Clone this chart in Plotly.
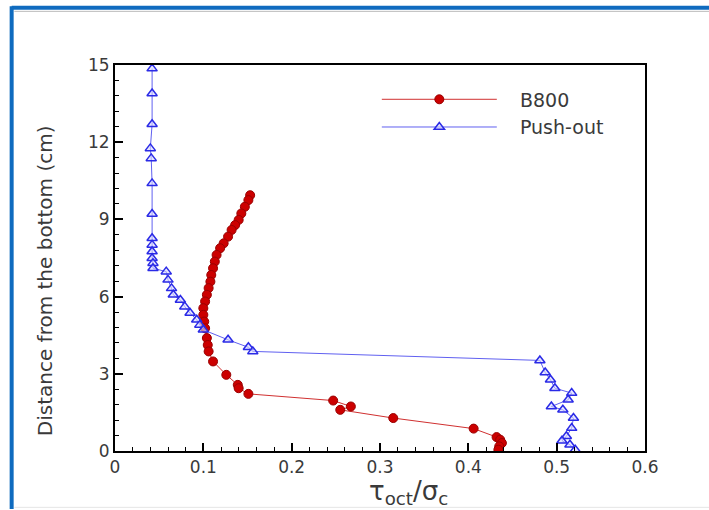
import plotly.graph_objects as go

# B800 data (x = tau_oct/sigma_c, y = distance from bottom in cm)
b800_x = [0.153, 0.151, 0.147, 0.143, 0.140, 0.136, 0.132, 0.128, 0.123, 0.119,
          0.115, 0.113, 0.111, 0.109, 0.108, 0.106, 0.104, 0.102, 0.100, 0.100,
          0.101, 0.102, 0.104, 0.105, 0.106, 0.111, 0.126, 0.139, 0.140, 0.151,
          0.247, 0.267, 0.255, 0.315, 0.406, 0.432, 0.436, 0.438, 0.435, 0.434]
b800_y = [9.94, 9.75, 9.49, 9.23, 8.98, 8.78, 8.59, 8.33, 8.07, 7.88,
          7.62, 7.36, 7.10, 6.84, 6.58, 6.33, 6.07, 5.81, 5.55, 5.29,
          5.03, 4.77, 4.39, 4.12, 3.87, 3.48, 2.96, 2.57, 2.44, 2.22,
          1.96, 1.73, 1.60, 1.28, 0.87, 0.54, 0.44, 0.31, 0.18, 0.05]

# Push-out data
push_x = [0.042, 0.042, 0.042, 0.040, 0.041, 0.042, 0.042, 0.042, 0.042, 0.042,
          0.042, 0.043, 0.043, 0.058, 0.060, 0.064, 0.066, 0.074, 0.079, 0.085,
          0.0925, 0.096, 0.100, 0.128, 0.151, 0.156, 0.481, 0.487, 0.493, 0.498,
          0.517, 0.513, 0.494, 0.507, 0.519, 0.517, 0.511, 0.506, 0.515, 0.521]
push_y = [14.86, 13.89, 12.70, 11.76, 11.37, 10.40, 9.21, 8.27, 8.01, 7.75,
          7.49, 7.30, 7.10, 6.97, 6.65, 6.32, 6.07, 5.87, 5.61, 5.36,
          5.10, 4.90, 4.71, 4.32, 4.03, 3.87, 3.52, 3.05, 2.77, 2.44,
          2.25, 1.99, 1.73, 1.60, 1.28, 0.89, 0.57, 0.40, 0.24, 0.05]

x_ticks = [0, 0.1, 0.2, 0.3, 0.4, 0.5, 0.6]
x_ticklabels = ["0", "0.1", "0.2", "0.3", "0.4", "0.5", "0.6"]
y_ticks = [0, 3, 6, 9, 12, 15]
y_ticklabels = ["0", "3", "6", "9", "12", "15"]

x_title = "τ<sub>oct</sub>/σ<sub>c</sub>"
y_title = "Distance from the bottom (cm)"

FONT = "DejaVu Sans, Verdana, sans-serif"
TXT = "#3a3a3a"
NB = "\u00a0\u00a0\u00a0"

fig = go.Figure()
fig.add_trace(go.Scatter(
    x=b800_x, y=b800_y, name=NB + "B800", mode="lines+markers",
    line=dict(color="#d03030", width=1),
    marker=dict(symbol="circle", size=9, color="#cc0000",
                line=dict(color="#990000", width=1)),
))
fig.add_trace(go.Scatter(
    x=push_x, y=push_y, name=NB + "Push-out", mode="lines+markers",
    line=dict(color="#6060f0", width=1),
    marker=dict(symbol="triangle-up", size=9, color="rgba(215,215,255,0.6)",
                line=dict(color="#2a2ae6", width=1.5)),
))

axis_common = dict(
    showline=True, linecolor="black", linewidth=2, mirror=True,
    ticks="inside", ticklen=8, tickwidth=1.5, tickcolor="black",
    showgrid=False, zeroline=False,
    tickfont=dict(family=FONT, size=17, color=TXT),
)

fig.update_xaxes(
    range=[0, 0.6], tickvals=x_ticks, ticktext=x_ticklabels,
    minor=dict(ticks="inside", ticklen=4, dtick=0.02, tickcolor="black", tickwidth=1),
    **axis_common,
)
fig.update_yaxes(
    range=[0, 15], tickvals=y_ticks, ticktext=y_ticklabels,
    minor=dict(ticks="inside", ticklen=4, dtick=0.6, tickcolor="black", tickwidth=1),
    **axis_common,
)

# Axis titles
fig.add_annotation(text=x_title, xref="paper", yref="paper", x=0.553, y=-0.108,
                   xanchor="center", yanchor="middle", showarrow=False,
                   font=dict(family=FONT, size=26, color=TXT))
fig.add_annotation(text=y_title, xref="paper", yref="paper", x=-0.132, y=0.44,
                   xanchor="center", yanchor="middle", showarrow=False, textangle=-90,
                   font=dict(family=FONT, size=20, color=TXT))

# Page frame (blue top and left borders, light bottom edge)
fig.add_shape(type="line", xref="paper", yref="paper",
              x0=-0.195, x1=1.25, y0=1.148, y1=1.148,
              line=dict(color="#0f6bbf", width=4))
fig.add_shape(type="line", xref="paper", yref="paper",
              x0=-0.195, x1=-0.195, y0=-0.15, y1=1.152,
              line=dict(color="#0f6bbf", width=4))
fig.add_shape(type="line", xref="paper", yref="paper",
              x0=-0.19, x1=1.25, y0=1.139, y1=1.139,
              line=dict(color="#bbbbbb", width=1))
fig.add_shape(type="line", xref="paper", yref="paper",
              x0=-0.19, x1=1.25, y0=-0.146, y1=-0.146,
              line=dict(color="#e6e6e6", width=1))

fig.update_layout(
    width=709, height=510,
    margin=dict(l=115, r=64, t=65, b=59),
    paper_bgcolor="white", plot_bgcolor="white",
    font=dict(family=FONT, color=TXT),
    showlegend=True,
    legend=dict(
        x=0.494, y=0.96, xanchor="left", yanchor="top",
        bgcolor="rgba(0,0,0,0)", borderwidth=0,
        font=dict(family=FONT, size=19, color=TXT),
        itemwidth=115, tracegroupgap=0,
    ),
)

fig.write_html("out.html", config={"displayModeBar": False},
               post_script="document.body.style.margin='0';document.body.style.overflow='hidden';")
